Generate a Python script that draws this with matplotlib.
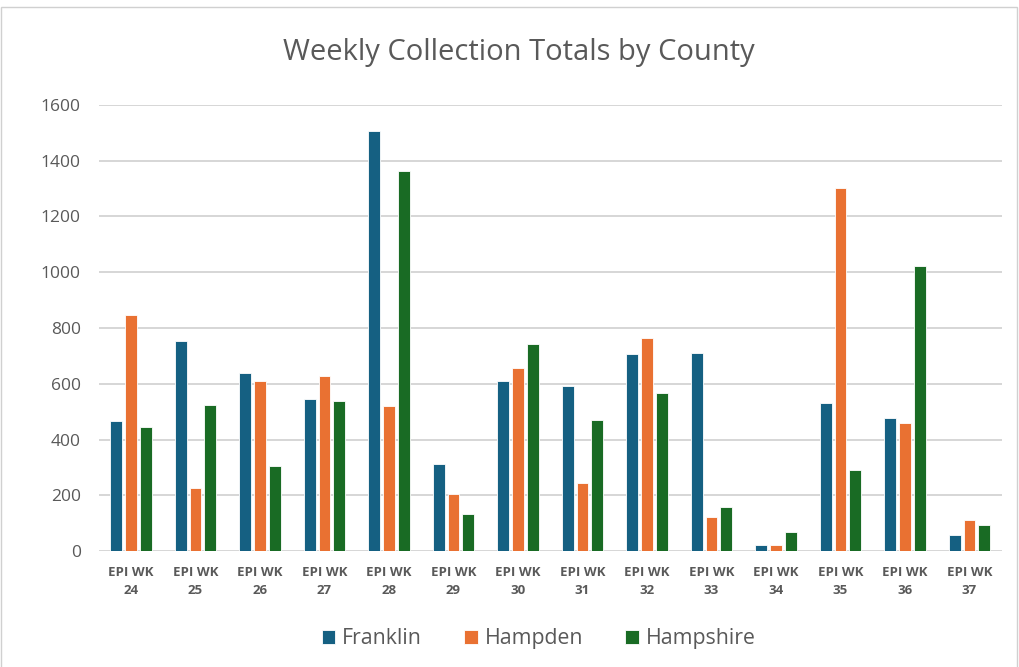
import matplotlib
matplotlib.use("Agg")
import matplotlib.pyplot as plt
import numpy as np

plt.rcParams['font.family'] = ['Open Sans', 'DejaVu Sans']

# data
weeks = ['EPI WK\n24', 'EPI WK\n25', 'EPI WK\n26', 'EPI WK\n27', 'EPI WK\n28', 'EPI WK\n29', 'EPI WK\n30',
         'EPI WK\n31', 'EPI WK\n32', 'EPI WK\n33', 'EPI WK\n34', 'EPI WK\n35', 'EPI WK\n36', 'EPI WK\n37']
franklin = [468, 752, 640, 547, 1507, 312, 611, 593, 705, 709, 20, 530, 476, 57]
hampden = [846, 225, 611, 627, 520, 203, 656, 243, 763, 122, 23, 1302, 458, 111]
hampshire = [445, 523, 305, 539, 1362, 131, 742, 471, 566, 157, 67, 289, 1021, 94]
series = ['Franklin', 'Hampden', 'Hampshire']
colors = ['#156082', '#E97132', '#196B24']

fig = plt.figure(figsize=(10.2, 6.67), dpi=100)
ax = fig.add_axes([0.0968, 0.1739, 0.8853, 0.6687])

x = np.arange(len(weeks))
w = 0.185
step = 0.228
for i, (vals, name) in enumerate(zip([franklin, hampden, hampshire], series)):
    ax.bar(x + (i - 1) * step, vals, width=w, color=colors[i], label=name,
           edgecolor='white', linewidth=0.6, zorder=3)

ax.set_xlim(-0.5, len(weeks) - 0.5)
ax.set_ylim(0, 1600)
ax.set_yticks(range(0, 1601, 200))
ax.yaxis.grid(True, color='#d6d6d6', linewidth=1.4, zorder=0)
for s in ax.spines.values():
    s.set_visible(False)
ax.tick_params(axis='both', length=0)
ax.tick_params(axis='y', labelsize=12.5, labelcolor='#595959', pad=13)
ax.set_xticks(x)
ax.set_xticklabels(weeks, fontsize=9.5, fontweight='bold', color='#595959', linespacing=1.45)
ax.tick_params(axis='x', pad=11)

fig.text(0.509, 0.921, 'Weekly Collection Totals by County', ha='center', va='center',
         fontsize=21, color='#595959')

fig.legend(loc='center', bbox_to_anchor=(0.528, 0.042), ncol=3, frameon=False,
           fontsize=15.3, labelcolor='#595959', handlelength=0.65, handleheight=0.65,
           columnspacing=2.0, handletextpad=0.3)

fig.patches.append(plt.Rectangle((0.001, -0.01), 0.996, 1.0, transform=fig.transFigure,
                                 fill=False, edgecolor='#d0d0d0', linewidth=1))

fig.savefig('out.png', dpi=100)
